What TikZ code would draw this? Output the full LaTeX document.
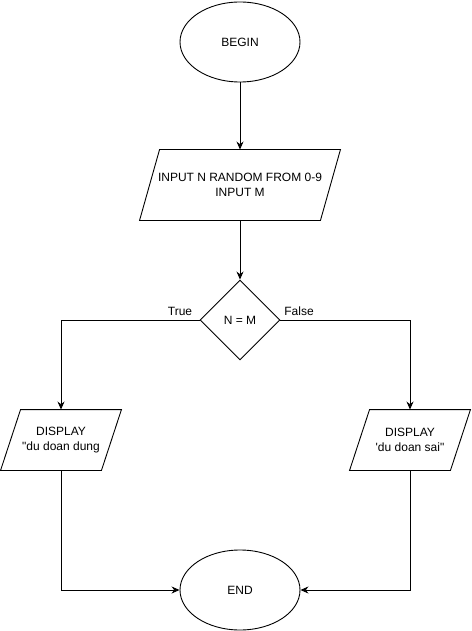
\documentclass[tikz,border=0pt]{standalone}
\usepackage{fontspec}
\newfontfamily\chartfont{Liberation Sans}
\usetikzlibrary{shapes.geometric,arrows.meta}
\tikzset{
  terminal/.style={ellipse, draw, minimum width=120, minimum height=80, inner sep=0},
  io/.style={rectangle, minimum width=180, minimum height=70, inner sep=0, align=center},
  smallio/.style={io, minimum width=100, minimum height=60},
  decision/.style={diamond, draw, minimum width=80, minimum height=80, inner sep=0},
  arrow/.style={-{Stealth[length=8pt,width=7pt]}}
}
\begin{document}
\begin{tikzpicture}[x=1pt, y=-1pt, line width=0.9pt,
  font=\chartfont\fontsize{12}{14.5}\selectfont]
\useasboundingbox (0,0) rectangle (471,631);
\node [terminal] (begin) at (240,42) {BEGIN};
\node [io] (input) at (240,185) {INPUT N RANDOM FROM 0-9\\INPUT M};
\node [decision] (check) at (240,320) {N = M};
\node [smallio] (right) at (61,440) {DISPLAY\\"du doan dung};
\node [smallio] (wrong) at (410,440) {DISPLAY\\'du doan sai"};
\node [terminal] (end) at (240,590) {END};
\node (true) at (180,311) {True};
\node (false) at (299,311) {False};
% parallelograms around the io nodes
\foreach \n in {input,right,wrong}
  \draw ([xshift=10pt]\n.north west) -- ([xshift=10pt]\n.north east)
    -- ([xshift=-10pt]\n.south east) -- ([xshift=-10pt]\n.south west) -- cycle;
\draw [arrow] (begin) -- (input);
\draw [arrow] (input) -- (check);
\draw [arrow] (check.west) -| (right.north);
\draw [arrow] (check.east) -| (wrong.north);
\draw [arrow] (right.south) |- (end.west);
\draw [arrow] (wrong.south) |- (end.east);
\end{tikzpicture}
\end{document}
